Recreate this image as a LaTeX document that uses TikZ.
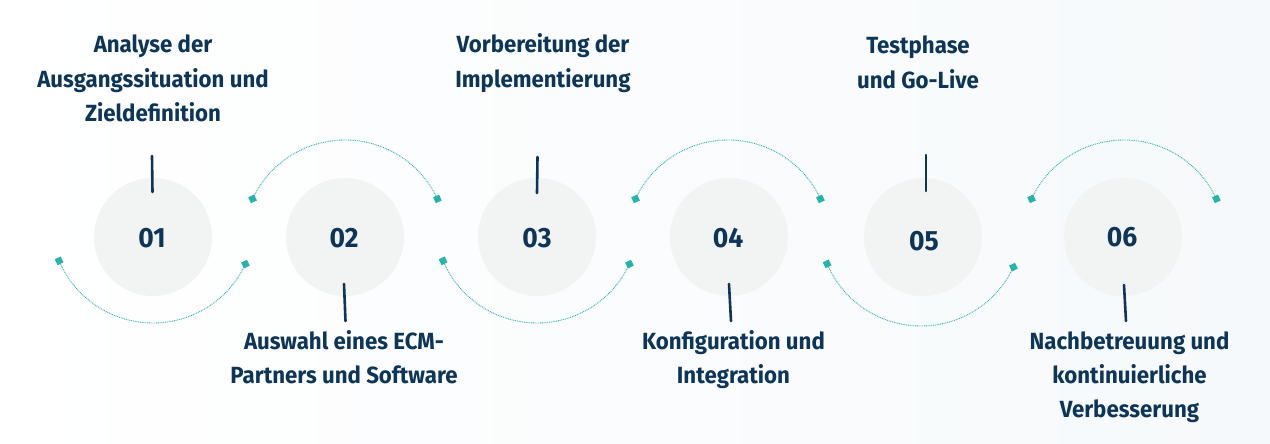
\documentclass[tikz,border=0pt]{standalone}
\usepackage{fontspec}
\setmainfont{Fira Sans}[FakeStretch=0.95]
\usepackage{xcolor}
\usetikzlibrary{calc}
\definecolor{textColor}{HTML}{0C3558}
\definecolor{tickColor}{HTML}{0C3558}
\definecolor{arcColor}{HTML}{26B3AA}
\definecolor{markColor}{HTML}{26B3AA}
\definecolor{discColor}{HTML}{F2F3F3}
\definecolor{bgColor}{HTML}{F6F9FB}
\def\phaseA{Analyse der\\Ausgangssituation und\\Zieldefinition}
\def\phaseB{Auswahl eines ECM-\\Partners und Software}
\def\phaseC{Vorbereitung der\\Implementierung}
\def\phaseD{Konfiguration und\\Integration}
\def\phaseE{Testphase\\und Go-Live}
\def\phaseF{Nachbetreuung und\\kontinuierliche\\Verbesserung}

\begin{document}
\begin{tikzpicture}[x=1bp,y=-1bp,
  disc/.style={circle, inner sep=0pt, minimum size=118bp, fill=discColor},
  num/.style={text=textColor, font=\fontsize{28}{28}\selectfont\bfseries},
  phaselabel/.style={align=center, inner sep=0pt, text=textColor,
    font=\fontsize{23.5}{34.5}\selectfont\bfseries},
  tick/.style={draw=tickColor, line width=2.6bp, line cap=round},
  arcline/.style={draw=arcColor, line width=0.9bp, dash pattern=on 0.9bp off 0.9bp},
  marker/.style={rectangle, inner sep=0pt, minimum size=6.5bp, rotate=25, fill=markColor}]

% background
\useasboundingbox (0, 0) rectangle (1270, 444);
\shade[left color=white, right color=bgColor] (0, 0) rectangle (1270, 444);

% disc layer
\begin{scope}
\node[disc] (cirA) at (153, 237) {};
\node[disc] (cirB) at (345, 237) {};
\node[disc] (cirC) at (537, 237) {};
\node[disc] (cirD) at (729, 237) {};
\node[disc] (cirE) at (923, 237) {};
\node[disc] (cirF) at (1123, 237) {};
\node[num] (numA) at (152, 238) {01};
\node[num] (numB) at (344, 238) {02};
\node[num] (numC) at (537, 238) {03};
\node[num] (numD) at (728, 238) {04};
\node[num] (numE) at (924, 241) {05};
\node[num] (numF) at (1122, 237) {06};
\end{scope}

% arc layer
\begin{scope}
\coordinate (arcA) at (153, 221);
\coordinate (arcB) at (345, 242);
\coordinate (arcC) at (537, 221);
\coordinate (arcD) at (728, 242);
\coordinate (arcE) at (921, 224);
\coordinate (arcF) at (1124, 242);
\node[marker] (mAl) at ($(arcA)+(157:102)$) {};
\node[marker] (mAr) at ($(arcA)+(25:102)$) {};
\node[marker] (mBl) at ($(arcB)+(205:102)$) {};
\node[marker] (mBr) at ($(arcB)+(335:102)$) {};
\node[marker] (mCl) at ($(arcC)+(157:102)$) {};
\node[marker] (mCr) at ($(arcC)+(25:102)$) {};
\node[marker] (mDl) at ($(arcD)+(205:102)$) {};
\node[marker] (mDr) at ($(arcD)+(335:102)$) {};
\node[marker] (mEl) at ($(arcE)+(157:102)$) {};
\node[marker] (mEr) at ($(arcE)+(25:102)$) {};
\node[marker] (mFl) at ($(arcF)+(205:102)$) {};
\node[marker] (mFr) at ($(arcF)+(335:102)$) {};
\draw[arcline] (mAl.center) arc[start angle=157, end angle=25, radius=102];
\draw[arcline] (mBl.center) arc[start angle=205, end angle=335, radius=102];
\draw[arcline] (mCl.center) arc[start angle=157, end angle=25, radius=102];
\draw[arcline] (mDl.center) arc[start angle=205, end angle=335, radius=102];
\draw[arcline] (mEl.center) arc[start angle=157, end angle=25, radius=102];
\draw[arcline] (mFl.center) arc[start angle=205, end angle=335, radius=102];
\end{scope}

% tick layer
\begin{scope}
\coordinate (tAa) at (152, 156);
\coordinate (tAb) at (152.5, 192);
\coordinate (tBa) at (344, 284);
\coordinate (tBb) at (345.5, 321);
\coordinate (tCa) at (537.5, 157);
\coordinate (tCb) at (537, 193);
\coordinate (tDa) at (729, 284);
\coordinate (tDb) at (731, 321);
\coordinate (tEa) at (926, 155);
\coordinate (tEb) at (926, 191);
\coordinate (tFa) at (1124, 285);
\coordinate (tFb) at (1126, 321);
\draw[tick] (tAa) -- (tAb);
\draw[tick] (tBa) -- (tBb);
\draw[tick] (tCa) -- (tCb);
\draw[tick] (tDa) -- (tDb);
\draw[tick] (tEa) -- (tEb);
\draw[tick] (tFa) -- (tFb);
\end{scope}

% label layer (base = last line)
\begin{scope}
\node[phaselabel, anchor=base] (labA) at (153, 121.7) {\phaseA};
\node[phaselabel, anchor=base] (labC) at (543, 87.2) {\phaseC};
\node[phaselabel, anchor=base] (labE) at (918, 88.3) {\phaseE};
\node[phaselabel, anchor=base] (labB) at (344, 384) {\phaseB};
\node[phaselabel, anchor=base] (labD) at (733.5, 384) {\phaseD};
\node[phaselabel, anchor=base] (labF) at (1129.5, 418) {\phaseF};
\end{scope}

\end{tikzpicture}
\end{document}
